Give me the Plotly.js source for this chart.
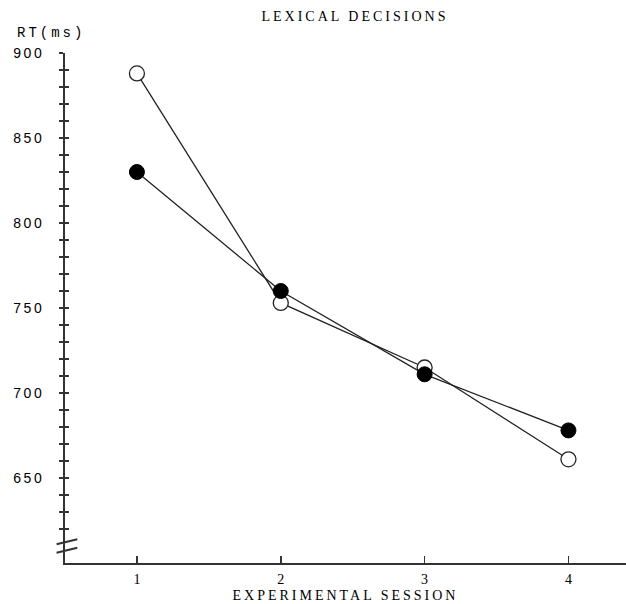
<!DOCTYPE html>
<html>
<head>
<meta charset="utf-8">
<script src="https://cdn.plot.ly/plotly-3.0.1.min.js"></script>
<style>
  html, body { margin: 0; padding: 0; background: #fff; }
  #chart { width: 626px; height: 604px; }
  .gtitle, .g-xtitle text, .annotation-text { letter-spacing: 3px; }
  .ytick text { letter-spacing: 2.5px; }
</style>
</head>
<body>
<div id="chart"></div>
<script>
// Data
const sessions = [1, 2, 3, 4];
const rtOpen = [888, 753, 715, 661];     // open circles
const rtFilled = [830, 760, 711, 678];   // filled circles

const xTickVals = [1, 2, 3, 4];
const xTickText = ['1', '2', '3', '4'];
const yTickVals = [620, 630, 640, 650, 660, 670, 680, 690, 700, 710, 720, 730, 740, 750,
                   760, 770, 780, 790, 800, 810, 820, 830, 840, 850, 860, 870, 880, 890, 900];
const yLabelVals = [650, 700, 750, 800, 850, 900];
const yTickText = yTickVals.map(v => yLabelVals.includes(v) ? String(v) : '');

const titleText = 'LEXICAL DECISIONS';
const yTitleText = 'RT(ms)';
const xTitleText = 'EXPERIMENTAL SESSION';

const ink = '#000';
const axisInk = '#333';

const traces = [
  {
    x: sessions, y: rtOpen, type: 'scatter', mode: 'lines+markers',
    line: {color: '#222', width: 1.3},
    marker: {symbol: 'circle', size: 15, color: '#fff', line: {color: '#222', width: 1.3}},
    cliponaxis: false, showlegend: false, hoverinfo: 'skip'
  },
  {
    x: sessions, y: rtFilled, type: 'scatter', mode: 'lines+markers',
    line: {color: '#222', width: 1.3},
    marker: {symbol: 'circle', size: 15, color: '#000', line: {color: '#000', width: 1}},
    cliponaxis: false, showlegend: false, hoverinfo: 'skip'
  },
  // empty trace so the overlaid tick axis (inside half of the cross ticks) is drawn
  {x: [], y: [], yaxis: 'y2', type: 'scatter', mode: 'markers', showlegend: false, hoverinfo: 'skip'}
];

const layout = {
  width: 626, height: 604,
  margin: {l: 65, r: 0, t: 53, b: 41, pad: 0},
  paper_bgcolor: '#fff', plot_bgcolor: '#fff',
  showlegend: false,
  title: {
    text: titleText,
    font: {family: 'Liberation Serif, serif', size: 14, color: ink},
    xref: 'container', x: 0.567, xanchor: 'center',
    yref: 'container', y: 0.973, yanchor: 'middle'
  },
  xaxis: {
    range: [0.5, 4.4], showgrid: false, zeroline: false,
    showline: true, linecolor: axisInk, linewidth: 2,
    tickmode: 'array', tickvals: xTickVals, ticktext: xTickText,
    ticks: 'inside', ticklen: 7, tickwidth: 1.5, tickcolor: axisInk,
    tickfont: {family: 'Liberation Serif, serif', size: 14, color: ink},
    ticklabelstandoff: 2,
    title: {text: xTitleText, standoff: 4,
            font: {family: 'Liberation Serif, serif', size: 14, color: ink}}
  },
  yaxis: {
    range: [600, 900], showgrid: false, zeroline: false,
    showline: true, linecolor: axisInk, linewidth: 2,
    tickmode: 'array', tickvals: yTickVals, ticktext: yTickText,
    ticks: 'outside', ticklen: 4, tickwidth: 1.5, tickcolor: axisInk,
    tickfont: {family: 'Liberation Sans, sans-serif', size: 14, color: ink},
    ticklabelstandoff: 12
  },
  yaxis2: {
    range: [600, 900], overlaying: 'y', side: 'left', anchor: 'x',
    showgrid: false, zeroline: false, showline: false,
    tickmode: 'array', tickvals: yTickVals,
    ticks: 'inside', ticklen: 4, tickwidth: 1.5, tickcolor: axisInk,
    showticklabels: false
  },
  shapes: [
    {type: 'line', xref: 'paper', yref: 'y', x0: -0.015, x1: 0.022, y0: 611, y1: 614,
     line: {color: axisInk, width: 2}},
    {type: 'line', xref: 'paper', yref: 'y', x0: -0.015, x1: 0.022, y0: 606, y1: 609,
     line: {color: axisInk, width: 2}}
  ],
  annotations: [
    {text: yTitleText, xref: 'paper', yref: 'paper', x: -0.089, xanchor: 'left',
     y: 1.039, yanchor: 'middle', showarrow: false,
     font: {family: 'Liberation Mono, monospace', size: 14, color: ink}}
  ]
};

Plotly.newPlot('chart', traces, layout, {displayModeBar: false, staticPlot: true});
</script>
</body>
</html>
